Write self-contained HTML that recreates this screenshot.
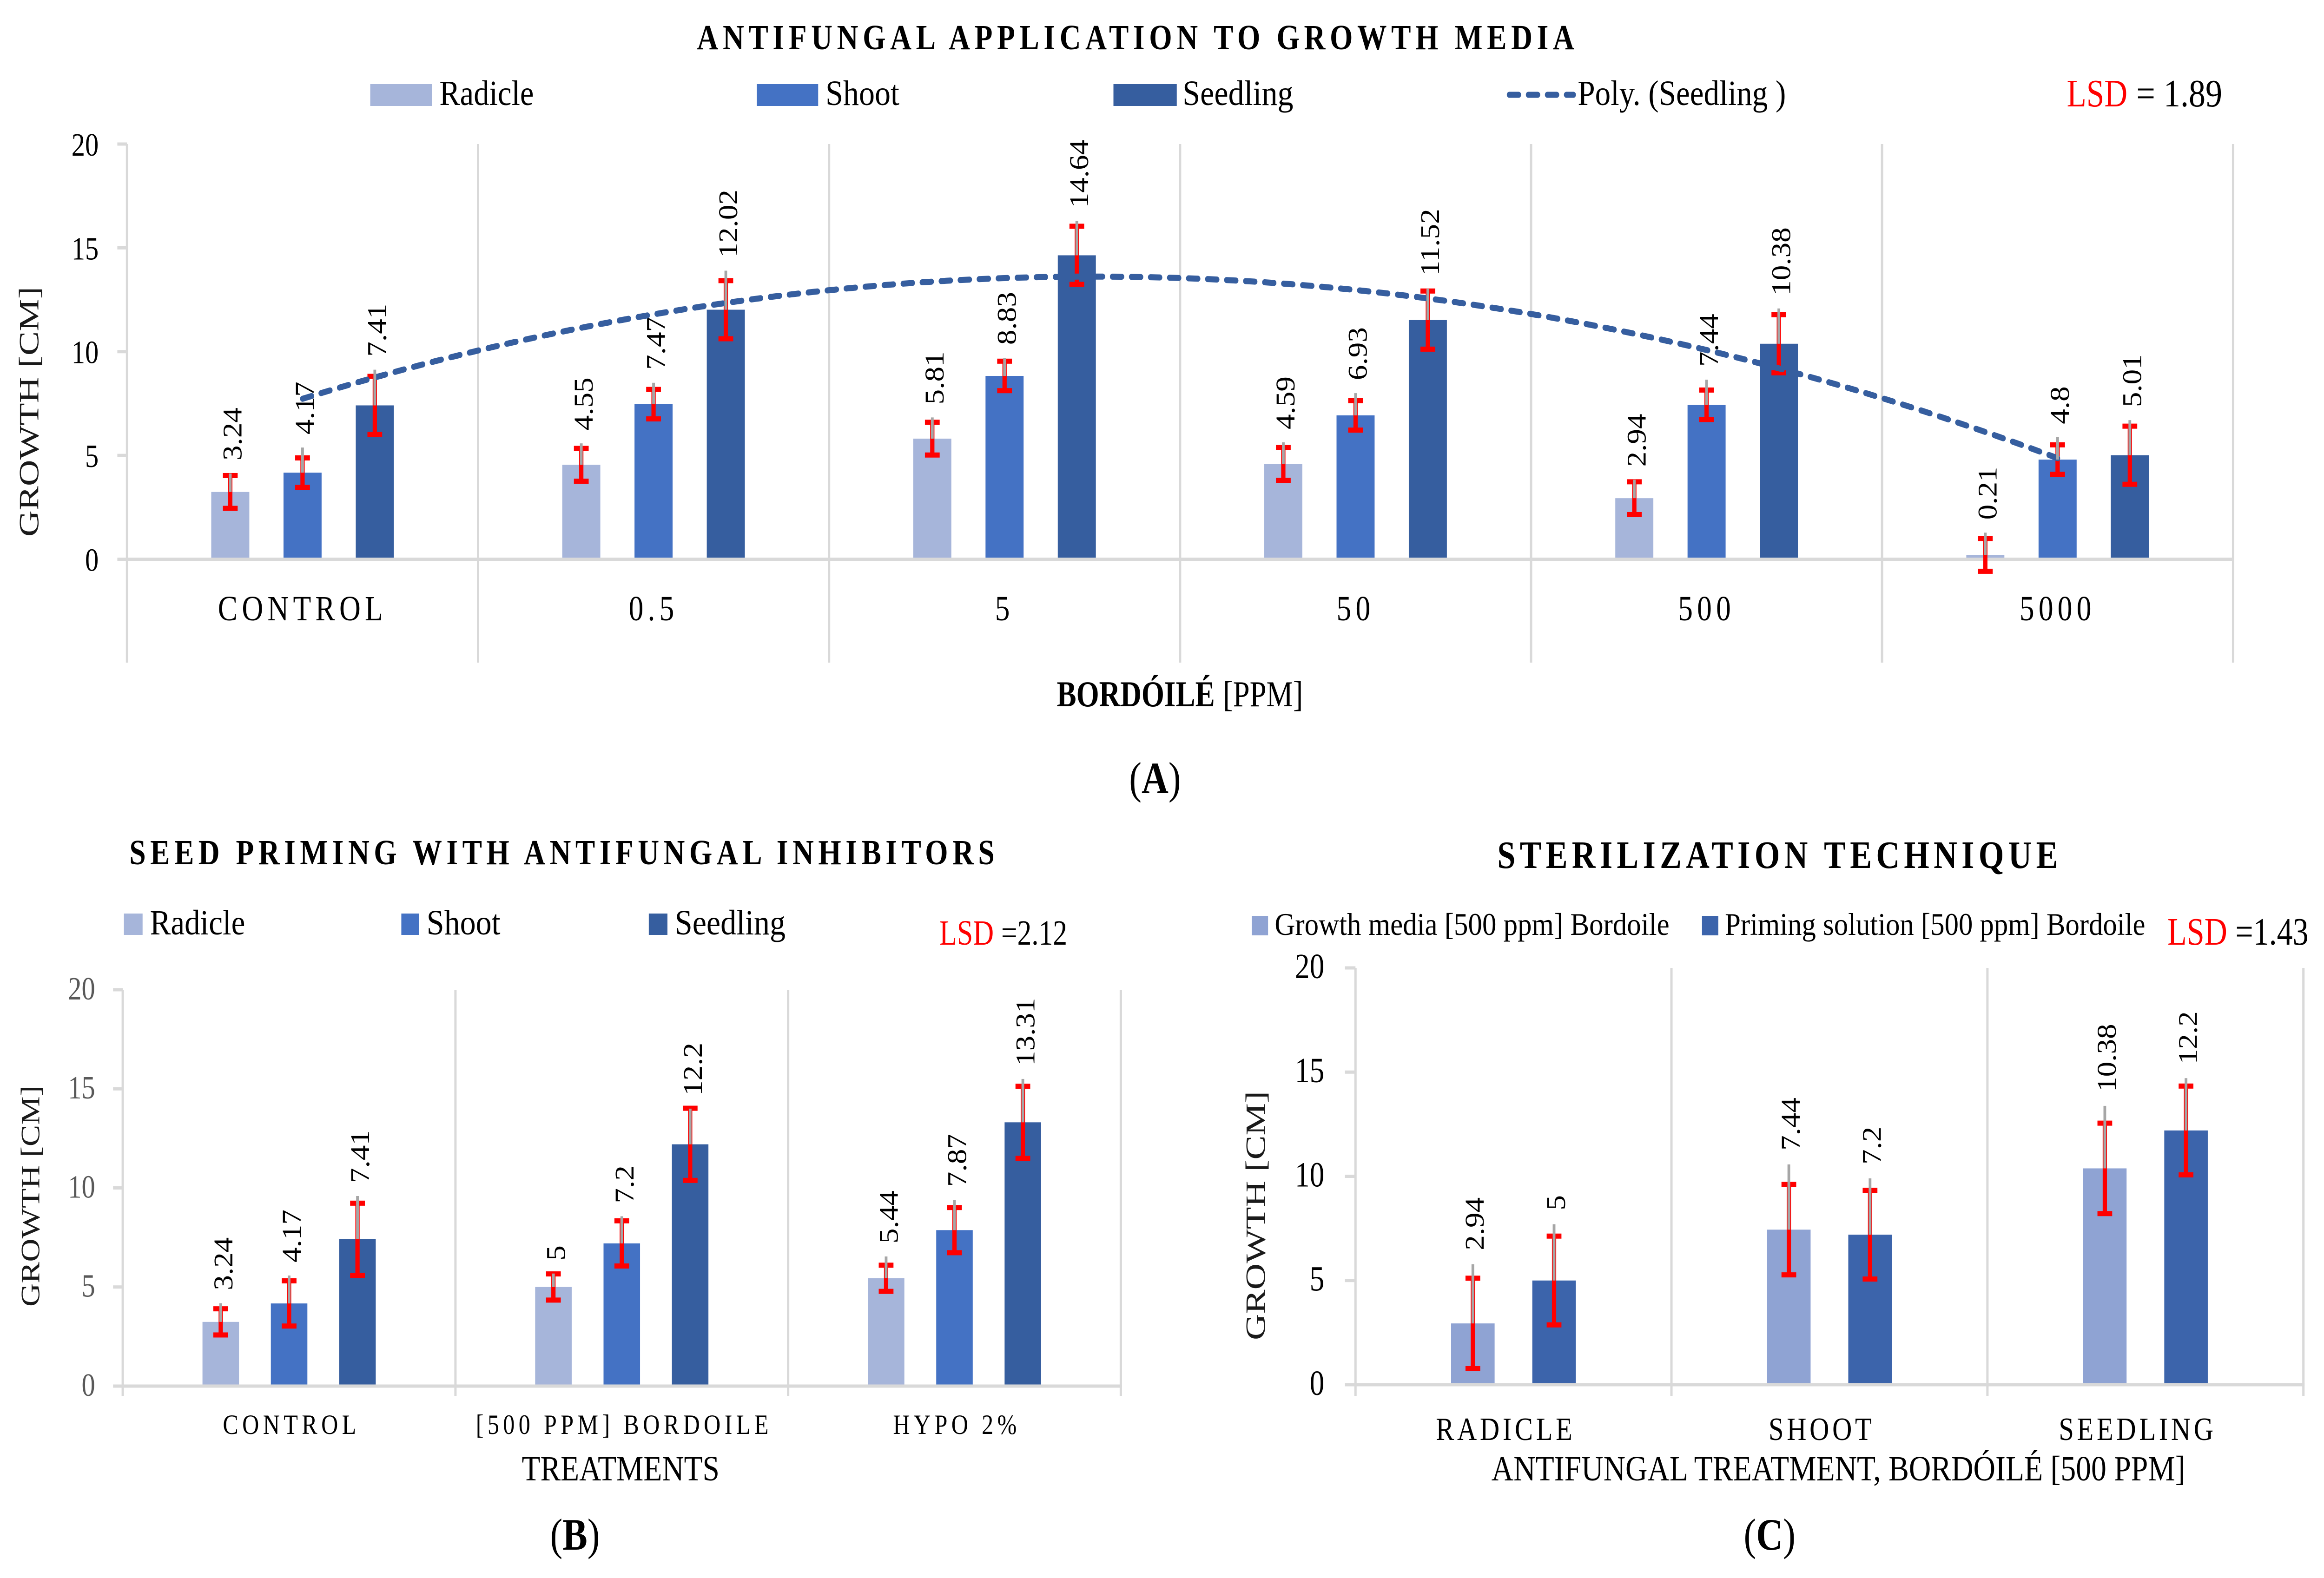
<!DOCTYPE html>
<html lang="en">
<head>
<meta charset="utf-8">
<meta name="viewport" content="width=device-width, initial-scale=1">
<title>Antifungal growth charts</title>
<style>
html,body{margin:0;padding:0;background:#fff;width:100%;height:100%;overflow:hidden}
svg{display:block;width:100vw;height:100vh}
text{font-family:"Liberation Serif",serif;fill:#000}
.ttl{font-weight:bold}
</style>
</head>
<body>
<svg id="figure" xmlns="http://www.w3.org/2000/svg" viewBox="0 0 5982 3396" preserveAspectRatio="none">
<rect width="5982" height="3396" fill="#fff"/>

<!-- Panel A static text -->
<text class="ttl" x="1794" y="106" font-size="76" textLength="2258" lengthAdjust="spacing">ANTIFUNGAL APPLICATION TO GROWTH MEDIA</text>
<rect x="953" y="181" width="159" height="47" fill="#a6b5da"/>
<text x="1131" y="226" font-size="76" textLength="243" lengthAdjust="spacingAndGlyphs">Radicle</text>
<rect x="1948" y="181" width="158" height="47" fill="#4472c4"/>
<text x="2125" y="226" font-size="76" textLength="190" lengthAdjust="spacingAndGlyphs">Shoot</text>
<rect x="2866" y="181" width="163" height="47" fill="#365e9f"/>
<text x="3044" y="226" font-size="76" textLength="285" lengthAdjust="spacingAndGlyphs">Seedling</text>
<line x1="3885" y1="204" x2="4050" y2="204" stroke="#365e9f" stroke-width="13" stroke-linecap="round" stroke-dasharray="24 25"/>
<text x="4061" y="226" font-size="76" textLength="536" lengthAdjust="spacingAndGlyphs">Poly. (Seedling )</text>
<text x="5320" y="229" font-size="84" textLength="156" lengthAdjust="spacingAndGlyphs" style="fill:#ff0000">LSD</text>
<text x="5499" y="229" font-size="84" textLength="221" lengthAdjust="spacingAndGlyphs">= 1.89</text>
<text transform="translate(99,1155) rotate(-90)" font-size="72" textLength="538" lengthAdjust="spacingAndGlyphs" style="fill:#1a1a1a">GROWTH [CM]</text>
<text class="ttl" x="2720" y="1520" font-size="78" textLength="407" lengthAdjust="spacingAndGlyphs">BORDÓILÉ</text>
<text x="3148" y="1520" font-size="78" textLength="206" lengthAdjust="spacingAndGlyphs">[PPM]</text>
<text x="2973" y="1707" font-size="96" text-anchor="middle">(<tspan font-weight="bold">A</tspan>)</text>

<!-- Panel B static text -->
<text class="ttl" x="333" y="1860" font-size="76" textLength="2227" lengthAdjust="spacing">SEED PRIMING WITH ANTIFUNGAL INHIBITORS</text>
<rect x="319" y="1966" width="48" height="46" fill="#a6b5da"/>
<text x="386" y="2011" font-size="76" textLength="245" lengthAdjust="spacingAndGlyphs">Radicle</text>
<rect x="1033" y="1966" width="46" height="46" fill="#4472c4"/>
<text x="1098" y="2011" font-size="76" textLength="190" lengthAdjust="spacingAndGlyphs">Shoot</text>
<rect x="1670" y="1966" width="48" height="46" fill="#365e9f"/>
<text x="1737" y="2011" font-size="76" textLength="285" lengthAdjust="spacingAndGlyphs">Seedling</text>
<text x="2418" y="2033" font-size="76" textLength="140" lengthAdjust="spacingAndGlyphs" style="fill:#ff0000">LSD</text>
<text x="2577" y="2033" font-size="76" textLength="170" lengthAdjust="spacingAndGlyphs">=2.12</text>
<text transform="translate(101,2812) rotate(-90)" font-size="68" textLength="476" lengthAdjust="spacingAndGlyphs" style="fill:#1a1a1a">GROWTH [CM]</text>
<text x="1343" y="3186" font-size="76" textLength="509" lengthAdjust="spacingAndGlyphs">TREATMENTS</text>
<text x="1480" y="3335" font-size="96" text-anchor="middle">(<tspan font-weight="bold">B</tspan>)</text>

<!-- Panel C static text -->
<text class="ttl" x="3854" y="1868" font-size="84" textLength="1443" lengthAdjust="spacing">STERILIZATION TECHNIQUE</text>
<rect x="3222" y="1971" width="42" height="42" fill="#8fa3d3"/>
<text x="3281" y="2012" font-size="68" textLength="1016" lengthAdjust="spacingAndGlyphs">Growth media [500 ppm] Bordoile</text>
<rect x="4381" y="1971" width="42" height="42" fill="#3c64ab"/>
<text x="4440" y="2012" font-size="68" textLength="1082" lengthAdjust="spacingAndGlyphs">Priming solution [500 ppm] Bordoile</text>
<text x="5579" y="2033" font-size="84" textLength="154" lengthAdjust="spacingAndGlyphs" style="fill:#ff0000">LSD</text>
<text x="5754" y="2033" font-size="84" textLength="188" lengthAdjust="spacingAndGlyphs">=1.43</text>
<text transform="translate(3256,2884) rotate(-90)" font-size="72" textLength="536" lengthAdjust="spacingAndGlyphs" style="fill:#1a1a1a">GROWTH [CM]</text>
<text x="3839" y="3186" font-size="76" textLength="1786" lengthAdjust="spacingAndGlyphs">ANTIFUNGAL TREATMENT, BORDÓILÉ [500 PPM]</text>
<text x="4555" y="3335" font-size="96" text-anchor="middle">(<tspan font-weight="bold">C</tspan>)</text>
</svg>

<script>
// ---------- Panel A data ----------
const aCategories = ["CONTROL", "0.5", "5", "50", "500", "5000"];
const aRadicle = [3.24, 4.55, 5.81, 4.59, 2.94, 0.21];
const aShoot = [4.17, 7.47, 8.83, 6.93, 7.44, 4.8];
const aSeedling = [7.41, 12.02, 14.64, 11.52, 10.38, 5.01];
const aErrors = [0.79, 0.71, 1.4];
const aRadicleLift = [0.89, 1.03, 1.02, 1.04, 0.89, 1.07];
const aShootLift = [1.21, 1.03, 0.87, 1.07, 1.21, 1.08];
const aSeedlingLift = [1.72, 1.88, 1.66, 1.51, 1.70, 1.69];
const aTicks = [0, 5, 10, 15, 20];

// ---------- Panel B data ----------
const bCategories = ["CONTROL", "[500 PPM] BORDOILE", "HYPO 2%"];
const bRadicle = [3.24, 5, 5.44];
const bShoot = [4.17, 7.2, 7.87];
const bSeedling = [7.41, 12.2, 13.31];
const bErrors = [0.66, 1.14, 1.82];
const bRadicleLift = [0.94, 0.68, 1.10];
const bShootLift = [1.41, 1.37, 1.53];
const bSeedlingLift = [2.18, 1.80, 2.19];
const bTicks = [0, 5, 10, 15, 20];

// ---------- Panel C data ----------
const cCategories = ["RADICLE", "SHOOT", "SEEDLING"];
const cGrowthMedia = [2.94, 7.44, 10.38];
const cPriming = [5, 7.2, 12.2];
const cErrors = [2.17, 2.13];
const cGrowthMediaLift = [2.84, 3.13, 3.00];
const cPrimingLift = [2.70, 2.70, 2.51];
const cTicks = [0, 5, 10, 15, 20];

const svg = document.getElementById('figure');
const NS = 'http://www.w3.org/2000/svg';
const GRID = '#d9d9d9';

function make(tag, parent, attrs, txt) {
  const e = document.createElementNS(NS, tag);
  for (const k in attrs) e.setAttribute(k, attrs[k]);
  if (txt !== undefined) e.textContent = txt;
  parent.appendChild(e);
  return e;
}

// Quadratic least-squares trend over evenly spaced categories.
function quadraticTrend(ys) {
  const n = ys.length, mid = (n - 1) / 2;
  let s2 = 0, s4 = 0, sy = 0, sty = 0, st2y = 0;
  ys.forEach(function (y, i) {
    const t = i - mid;
    s2 += t * t; s4 += t * t * t * t; sy += y; sty += t * y; st2y += t * t * y;
  });
  const b = sty / s2;
  const a = (n * st2y - s2 * sy) / (n * s4 - s2 * s2);
  const c = (sy - a * s2) / n;
  return function (i) { const t = i - mid; return a * t * t + b * t + c; };
}

function drawChart(cfg) {
  const root = make('g', svg, {});
  
  

  const step = (cfg.right - cfg.left) / cfg.categories.length;
  const xOf = function (i) { return cfg.left + (i + 0.5) * step; };
  const yOf = function (v) { return cfg.y0 - v * (cfg.y0 - cfg.yTop) / 20; };
  const nS = cfg.series.length;

  // vertical category dividers
  for (let i = 0; i <= cfg.categories.length; i++) {
    const div = make('rect', root, { x: cfg.left + i * step - 3, y: cfg.yTop, width: 6, height: cfg.vBottom - cfg.yTop, fill: GRID });
    
    
  }

  // y ticks and labels
  cfg.ticks.forEach(function (t) {
    const tick = make('rect', root, { x: cfg.left - cfg.tickLen, y: yOf(t) - 3.5, width: cfg.tickLen, height: 7, fill: GRID });
    
    
    const lab = make('text', root, { x: cfg.tickRight, y: yOf(t) + cfg.tickDy, 'font-size': cfg.tickFont, 'text-anchor': 'end', style: 'fill:' + cfg.tickColor }, String(t));
    
    
  });

  // bars
  cfg.series.forEach(function (s, si) {
    s.values.forEach(function (v, i) {
      const cx = xOf(i) + (si - (nS - 1) / 2) * cfg.barGap;
      const bar = make('rect', root, { x: cx - cfg.barW / 2, y: yOf(v), width: cfg.barW, height: cfg.y0 - yOf(v), fill: s.color });
      
      
    });
  });

  // x axis line
  const axis = make('rect', root, { x: cfg.left - 3, y: cfg.y0 - 3.5, width: cfg.right - cfg.left + 6, height: 7, fill: GRID });
  
  

  // error bars
  cfg.series.forEach(function (s, si) {
    s.values.forEach(function (v, i) {
      const cx = xOf(i) + (si - (nS - 1) / 2) * cfg.barGap;
      const hi = yOf(v + s.error), lo = yOf(v - s.error);
      const stem = make('rect', root, { x: cx - 5.5, y: hi, width: 11, height: lo - hi, fill: '#ff0000' });
      
      
      const capTop = make('rect', root, { x: cx - 19, y: hi - 5.5, width: 38, height: 11, fill: '#ff0000' });
      
      
      const capBot = make('rect', root, { x: cx - 19, y: lo - 5.5, width: 38, height: 11, fill: '#ff0000' });
      
      
    });
  });

  // value labels
  cfg.series.forEach(function (s, si) {
    s.values.forEach(function (v, i) {
      const cx = xOf(i) + (si - (nS - 1) / 2) * cfg.barGap;
      const top = yOf(v + s.lift[i]);
      const lab = make('text', root, {
        transform: 'translate(' + (cx + cfg.labelDx) + ',' + (top - cfg.labelGap) + ') rotate(-90) scale(.93,1)',
        'font-size': 70
      }, String(v));
      
      
    });
  });

  // polynomial trendline, fitted to the series values
  if (cfg.trendOf) {
    const fit = quadraticTrend(cfg.trendOf);
    const pts = [];
    const last = cfg.trendOf.length - 1;
    for (let k = 0; k <= 120; k++) {
      const u = last * k / 120;
      pts.push(xOf(u).toFixed(1) + ',' + yOf(fit(u)).toFixed(1));
    }
    const trend = make('polyline', root, {
      points: pts.join(' '), fill: 'none', stroke: '#365e9f', 'stroke-width': 13,
      'stroke-linecap': 'round', 'stroke-linejoin': 'round', 'stroke-dasharray': '24 25'
    });
    
    
  }

  // gray leader lines from bar top to label
  cfg.series.forEach(function (s, si) {
    s.values.forEach(function (v, i) {
      const cx = xOf(i) + (si - (nS - 1) / 2) * cfg.barGap;
      const top = yOf(v + s.lift[i]);
      const leader = make('rect', root, { x: cx - 3.5, y: top, width: 7, height: yOf(v) - top, fill: '#a6a6a6' });
      
      
    });
  });

  // category labels
  cfg.categories.forEach(function (c, i) {
    const lab = make('text', root, {
      x: xOf(i) + cfg.catDx, y: cfg.catBaseline, 'font-size': cfg.catFont, 'text-anchor': 'middle',
      'letter-spacing': cfg.catSpacing
    }, c);
    
    
  });
}

drawChart({
  id: 'panel-a', categories: aCategories, ticks: aTicks,
  left: 327, right: 5748, y0: 1203.5, yTop: 310, vBottom: 1426, tickLen: 25,
  tickRight: 254, tickFont: 70, tickDy: 25, tickColor: '#000', barW: 98, barGap: 186,
  labelDx: 29, labelGap: 28, catBaseline: 1335, catFont: 76, catSpacing: 11, catDx: 0,
  trendOf: aSeedling,
  series: [
    { name: 'radicle', values: aRadicle, error: aErrors[0], lift: aRadicleLift, color: '#a6b5da' },
    { name: 'shoot', values: aShoot, error: aErrors[1], lift: aShootLift, color: '#4472c4' },
    { name: 'seedling', values: aSeedling, error: aErrors[2], lift: aSeedlingLift, color: '#365e9f' }
  ]
});

drawChart({
  id: 'panel-b', categories: bCategories, ticks: bTicks,
  left: 316, right: 2885, y0: 2983, yTop: 2130, vBottom: 3004, tickLen: 25,
  tickRight: 245, tickFont: 70, tickDy: 21, tickColor: '#595959', barW: 94, barGap: 176,
  labelDx: 30, labelGap: 28, catBaseline: 3086, catFont: 60, catSpacing: 10, catDx: 6,
  series: [
    { name: 'radicle', values: bRadicle, error: bErrors[0], lift: bRadicleLift, color: '#a6b5da' },
    { name: 'shoot', values: bShoot, error: bErrors[1], lift: bShootLift, color: '#4472c4' },
    { name: 'seedling', values: bSeedling, error: bErrors[2], lift: bSeedlingLift, color: '#365e9f' }
  ]
});

drawChart({
  id: 'panel-c', categories: cCategories, ticks: cTicks,
  left: 3489, right: 5929, y0: 2980, yTop: 2083, vBottom: 3004, tickLen: 27,
  tickRight: 3409, tickFont: 76, tickDy: 22, tickColor: '#000', barW: 112, barGap: 209,
  labelDx: 28, labelGap: 30, catBaseline: 3099, catFont: 70, catSpacing: 8, catDx: -20,
  series: [
    { name: 'growth-media', values: cGrowthMedia, error: cErrors[0], lift: cGrowthMediaLift, color: '#8fa3d3' },
    { name: 'priming-solution', values: cPriming, error: cErrors[1], lift: cPrimingLift, color: '#3c64ab' }
  ]
});
</script>
</body>
</html>
